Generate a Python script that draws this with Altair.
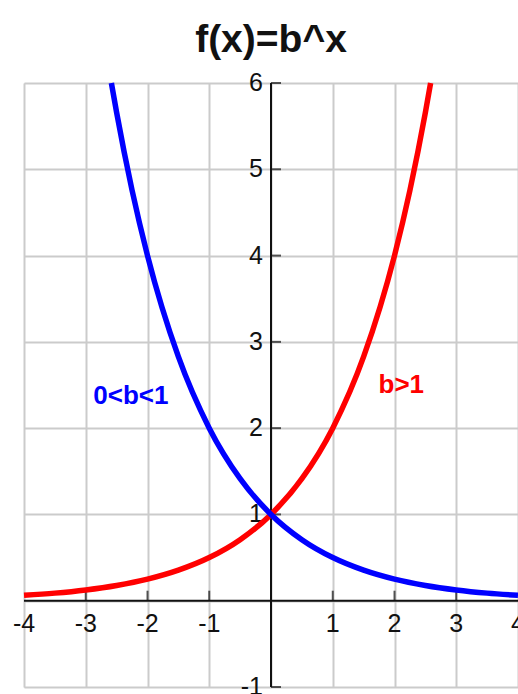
import altair as alt
import pandas as pd

# Sampled values of the two exponential curves
red_x = [-4, -3.5, -3, -2.5, -2, -1.5, -1, -0.5, 0, 0.5, 1, 1.5, 2, 2.25, 2.5, 2.585]
red_y = [0.0625, 0.088, 0.125, 0.177, 0.25, 0.354, 0.5, 0.707, 1, 1.414, 2, 2.828, 4, 4.757, 5.657, 6]
blue_x = [-2.585, -2.5, -2.25, -2, -1.5, -1, -0.5, 0, 0.5, 1, 1.5, 2, 2.5, 3, 3.5, 4]
blue_y = [6, 5.657, 4.757, 4, 2.828, 2, 1.414, 1, 0.707, 0.5, 0.354, 0.25, 0.177, 0.125, 0.088, 0.0625]

# Axis tick labels
x_ticks = [-4, -3, -2, -1, 1, 2, 3, 4]
y_ticks = [-1, 1, 2, 3, 4, 5, 6]
x_tick_marks = [-3, -2, -1, 1, 2, 3]
grid_x = [-4, -3, -2, -1, 0, 1, 2, 3, 4]
grid_y = [-1, 0, 1, 2, 3, 4, 5, 6]

# Curve annotations
ann_text = ["0<b<1", "b>1"]
ann_x = [-2.27, 2.11]
ann_y = [2.37, 2.5]
ann_color = ["#0000ff", "#ff0000"]

TITLE = "f(x)=b^x"
FONT = "Liberation Sans, Arial, sans-serif"

xs = alt.Scale(domain=[-4, 4], nice=False, zero=False)
ys = alt.Scale(domain=[-1, 6], nice=False, zero=False)

curves = pd.concat([
    pd.DataFrame({"x": red_x, "y": red_y, "series": "b>1"}),
    pd.DataFrame({"x": blue_x, "y": blue_y, "series": "0<b<1"}),
])

# Background grid from the axes only
grid = alt.Chart(pd.DataFrame({"x": [0], "y": [0]})).mark_point(opacity=0).encode(
    x=alt.X("x:Q", scale=xs, axis=alt.Axis(values=grid_x, grid=True, labels=False, ticks=False,
                                           domain=False, title=None, gridColor="#cbcbcb", gridWidth=2)),
    y=alt.Y("y:Q", scale=ys, axis=alt.Axis(values=grid_y, grid=True, labels=False, ticks=False,
                                           domain=False, title=None, gridColor="#cbcbcb", gridWidth=2)),
)

# Axis lines through the origin
x_axis = alt.Chart(pd.DataFrame({"x": [-4], "x2": [4], "y": [0]})).mark_rule(
    color="#111111", strokeWidth=2).encode(x=alt.X("x:Q", scale=xs), x2="x2:Q", y=alt.Y("y:Q", scale=ys))
y_axis = alt.Chart(pd.DataFrame({"y": [-1], "y2": [6], "x": [0]})).mark_rule(
    color="#111111", strokeWidth=2).encode(y=alt.Y("y:Q", scale=ys), y2="y2:Q", x=alt.X("x:Q", scale=xs))

x_tk = alt.Chart(pd.DataFrame({"x": x_tick_marks, "y": [0] * len(x_tick_marks)})).mark_tick(
    orient="vertical", size=10, thickness=2, yOffset=-5, color="#111111").encode(
    x=alt.X("x:Q", scale=xs), y=alt.Y("y:Q", scale=ys))
y_tk = alt.Chart(pd.DataFrame({"y": y_ticks, "x": [0] * len(y_ticks)})).mark_tick(
    orient="horizontal", size=10, thickness=2, xOffset=5, color="#111111").encode(
    x=alt.X("x:Q", scale=xs), y=alt.Y("y:Q", scale=ys))

x_lab = alt.Chart(pd.DataFrame({"x": x_ticks, "y": [0] * len(x_ticks), "t": [str(v) for v in x_ticks]})).mark_text(
    font=FONT, fontSize=25, dy=23, baseline="middle", align="center", color="#111111").encode(
    x=alt.X("x:Q", scale=xs), y=alt.Y("y:Q", scale=ys), text="t:N")
y_lab = alt.Chart(pd.DataFrame({"y": y_ticks, "x": [0] * len(y_ticks), "t": [str(v) for v in y_ticks]})).mark_text(
    font=FONT, fontSize=25, dx=-8, baseline="middle", align="right", color="#111111").encode(
    x=alt.X("x:Q", scale=xs), y=alt.Y("y:Q", scale=ys), text="t:N")

lines = alt.Chart(curves).mark_line(strokeWidth=5.5, interpolate="monotone").encode(
    x=alt.X("x:Q", scale=xs),
    y=alt.Y("y:Q", scale=ys),
    color=alt.Color("series:N", scale=alt.Scale(domain=["b>1", "0<b<1"], range=["#ff0000", "#0000ff"]),
                    legend=None),
    detail="series:N",
)

ann = alt.Chart(pd.DataFrame({"x": ann_x, "y": ann_y, "t": ann_text, "c": ann_color})).mark_text(
    font=FONT, fontSize=26, fontWeight="bold", baseline="middle", align="center").encode(
    x=alt.X("x:Q", scale=xs), y=alt.Y("y:Q", scale=ys), text="t:N", color=alt.Color("c:N", scale=None))

# Title placed above the top of the plot, centred on the vertical axis
title = alt.Chart(pd.DataFrame({"x": [0], "y": [6], "t": [TITLE]})).mark_text(
    font=FONT, fontSize=39, fontWeight="bold", baseline="alphabetic", align="center", dy=-31,
    color="#111111").encode(x=alt.X("x:Q", scale=xs), y=alt.Y("y:Q", scale=ys), text="t:N")

chart = alt.layer(grid, x_axis, y_axis, x_tk, y_tk, x_lab, y_lab, lines, ann, title).properties(
    width=494, height=604,
    autosize=alt.AutoSizeParams(type="none"),
    padding={"left": 24, "top": 83, "right": 0, "bottom": 7},
).configure_view(stroke=None).configure(background="white")

chart.save("out.html", embed_options={"renderer": "svg", "actions": False})
